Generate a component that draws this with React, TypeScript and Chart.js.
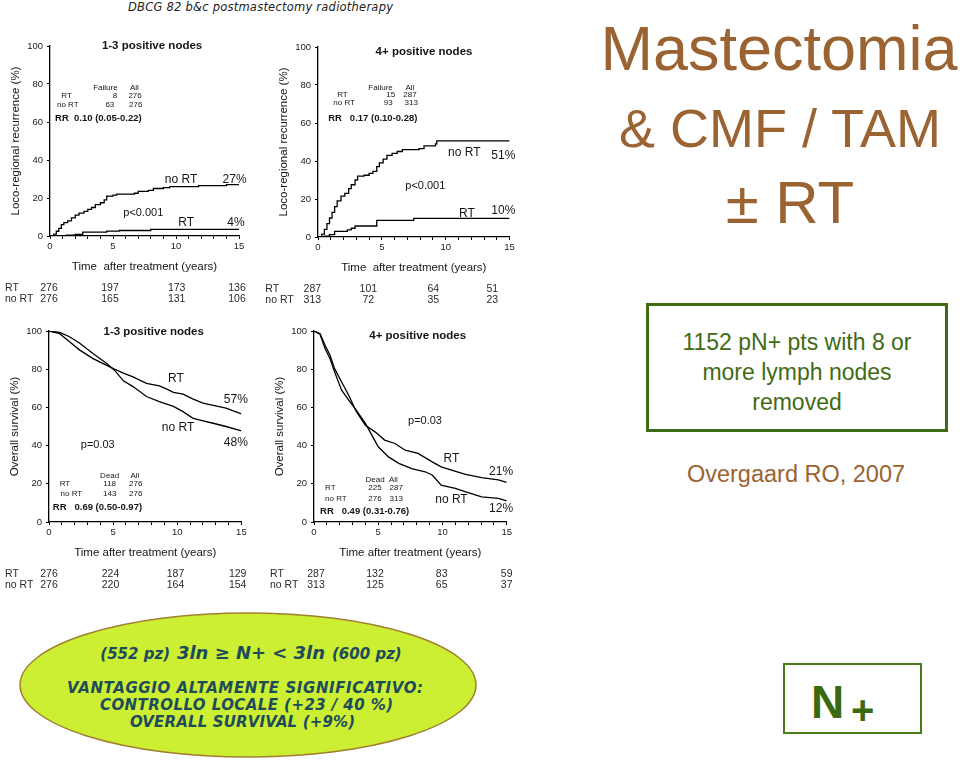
import React, { useEffect, useRef } from "react";
import { Chart, registerables } from "chart.js";
Chart.register(...registerables);

const F = '"Liberation Sans", Arial, sans-serif';

// ---------- data ----------
const yearTicks = [0, 5, 10, 15];

// Loco-regional recurrence, 1-3 positive nodes
const lrr13NoRtTime = [0, 0.3, 0.5, 0.7, 0.9, 1.1, 1.4, 1.7, 2.0, 2.3, 2.7, 3.0, 3.3, 3.6, 4.0, 4.3, 4.5, 5.0, 5.3, 6.7, 7.0, 7.8, 8.2, 9.0, 9.5, 11.8, 14.0, 15];
const lrr13NoRtPct = [0, 1, 2.5, 4, 6, 7, 8, 9.5, 11, 12, 13, 14, 15, 16.5, 17.5, 19, 21, 21.5, 22, 22.5, 23.5, 24, 25, 25.5, 26, 26.5, 27, 27];
const lrr13RtTime = [0, 1.3, 2.0, 2.6, 4.5, 5.5, 8.0, 15];
const lrr13RtPct = [0, 0.4, 0.8, 2, 2.6, 2.9, 3.5, 3.5];
const lrr13RiskRt = [276, 197, 173, 136];
const lrr13RiskNoRt = [276, 165, 131, 106];

// Loco-regional recurrence, 4+ positive nodes
const lrr4NoRtTime = [0, 0.3, 0.5, 0.7, 0.9, 1.1, 1.3, 1.5, 1.8, 2.1, 2.4, 2.6, 2.9, 3.1, 3.6, 4.0, 4.3, 4.6, 4.8, 5.1, 5.4, 5.8, 6.2, 6.6, 7.9, 8.3, 9.2, 9.3, 15];
const lrr4NoRtPct = [0, 1.5, 4, 7, 10, 13, 16, 19, 21.5, 23, 25.5, 27.5, 30, 32, 32.5, 33.5, 34.5, 37, 39, 41, 43, 44, 45, 46, 46.5, 48, 49, 50.6, 50.6];
const lrr4RtTime = [0, 0.5, 0.9, 1.3, 2.3, 2.6, 2.9, 4.6, 7.5, 15];
const lrr4RtPct = [0, 0.5, 1.2, 3, 3.8, 4.6, 5.8, 8.8, 9.8, 9.8];
const lrr4RiskRt = [287, 101, 64, 51];
const lrr4RiskNoRt = [313, 72, 35, 23];

// Overall survival, 1-3 positive nodes
const os13RtTime = [0, 0.83, 1.6, 2.4, 3.4, 4.5, 5.1, 5.8, 6.55, 7.6, 8.6, 9.15, 9.7, 10.45, 11.2, 12, 12.8, 13.8, 15];
const os13RtPct = [100, 98.6, 94.4, 90, 85.7, 82, 80, 77.9, 76, 72.6, 71.3, 69.7, 67.9, 66.9, 64.5, 62.2, 61, 59.6, 56.6];
const os13NoRtTime = [0, 0.83, 1.6, 2.4, 3.4, 4.5, 5.1, 5.8, 6.55, 7.6, 8.6, 9.7, 10.45, 11.2, 12, 12.8, 13.8, 15];
const os13NoRtPct = [100, 99.3, 97, 93.6, 88.3, 83, 79.5, 73.9, 70.9, 65.7, 63, 60.5, 57.8, 54.4, 53, 51.7, 50, 47.7];
const os13RiskRt = [276, 224, 187, 129];
const os13RiskNoRt = [276, 220, 164, 154];

// Overall survival, 4+ positive nodes
const os4RtTime = [0, 0.47, 0.86, 1.25, 1.6, 2.15, 2.7, 3.3, 4, 4.75, 5.5, 6.3, 7.1, 8.1, 9.2, 9.9, 10.7, 11.8, 13.05, 14.35, 15];
const os4RtPct = [100, 98.6, 92.5, 87.3, 80.3, 73.3, 66.4, 57.7, 50.7, 47.2, 42.9, 41.1, 37.6, 35.9, 31.5, 28.9, 27.2, 24.9, 23.2, 22, 20.7];
const os4NoRtTime = [0, 0.47, 0.86, 1.25, 1.6, 2.15, 2.7, 3.3, 4, 4.5, 5, 5.8, 6.6, 7.6, 8.65, 9.2, 9.9, 11, 11.75, 13.05, 14.35, 15];
const os4NoRtPct = [100, 98.3, 90.8, 85.5, 78.6, 69, 63.8, 58.5, 51.6, 45.5, 39.4, 34.1, 30.7, 28, 26.3, 24.6, 19.3, 17.6, 15.9, 13.2, 12.4, 11];
const os4RiskRt = [287, 132, 83, 59];
const os4RiskNoRt = [313, 125, 65, 37];

// ---------- layout constants ----------
const PADL = 8;
const AXISW = 50;
const PADR = 26;
const PADT = 18;
const XAXISH = 38;
const PADB = 36;

type Item = { t: number; v: number; text: string; align?: CanvasTextAlign; font: string };

const fTitle = `bold 11.5px ${F}`;
const fSmall = `8px ${F}`;
const fRR = `bold 9.5px ${F}`;
const fLab = `12px ${F}`;
const fP = `11px ${F}`;

const textPlugin = {
  id: "kmText",
  afterDraw(chart: any, _a: any, opts: any) {
    const { ctx, scales, chartArea } = chart;
    const x = scales.x, y = scales.y;
    ctx.save();
    ctx.textBaseline = "middle";
    ctx.fillStyle = "#151515";
    for (const it of (opts.items || []) as Item[]) {
      ctx.font = it.font;
      ctx.textAlign = it.align || "center";
      ctx.fillText(it.text, x.getPixelForValue(it.t), y.getPixelForValue(it.v));
    }
    if (opts.risk) {
      ctx.font = `10.5px ${F}`;
      ctx.fillStyle = "#2a2a2a";
      opts.risk.forEach((row: any, ri: number) => {
        const py = chartArea.bottom + (ri === 0 ? 52 : 63.5);
        ctx.textAlign = "left";
        ctx.fillText(row.label, chartArea.left + opts.riskLabelX, py);
        ctx.textAlign = "center";
        row.values.forEach((val: number, i: number) => {
          ctx.fillText(String(val), chartArea.left + opts.riskX[i], py);
        });
      });
    }
    ctx.restore();
  },
};

type Spec = {
  x0: number; y100: number; plotW: number; plotH: number;
  yTitle: string; xTitle: string; stepped: boolean;
  rt: [number[], number[]]; nort: [number[], number[]];
  items: Item[];
  riskRt: number[]; riskNoRt: number[];
  riskLabelX: number; riskX: number[];
};

const specs: Spec[] = [
  {
    x0: 50, y100: 46, plotW: 189, plotH: 190,
    yTitle: "Loco-regional recurrence (%)", xTitle: "Time  after treatment (years)", stepped: true,
    rt: [lrr13RtTime, lrr13RtPct], nort: [lrr13NoRtTime, lrr13NoRtPct],
    items: [
      { t: 8.1, v: 100, text: "1-3 positive nodes", font: fTitle },
      { t: 4.4, v: 78, text: "Failure", font: fSmall },
      { t: 6.7, v: 78, text: "All", font: fSmall },
      { t: 0.9, v: 73.6, text: "RT", font: fSmall, align: "left" },
      { t: 5.15, v: 73.6, text: "8", font: fSmall },
      { t: 6.75, v: 73.6, text: "276", font: fSmall },
      { t: 0.55, v: 69, text: "no RT", font: fSmall, align: "left" },
      { t: 4.75, v: 69, text: "63", font: fSmall },
      { t: 6.8, v: 69, text: "276", font: fSmall },
      { t: 0.4, v: 62, text: "RR  0.10 (0.05-0.22)", font: fRR, align: "left" },
      { t: 10.4, v: 29.6, text: "no RT", font: fLab },
      { t: 15.6, v: 29.6, text: "27%", font: fLab, align: "right" },
      { t: 7.4, v: 12.3, text: "p<0.001", font: fP },
      { t: 10.8, v: 7, text: "RT", font: fLab },
      { t: 15.45, v: 7, text: "4%", font: fLab, align: "right" },
    ],
    riskRt: lrr13RiskRt, riskNoRt: lrr13RiskNoRt,
    riskLabelX: -45, riskX: [-1, 60, 126.7, 187],
  },
  {
    x0: 317.7, y100: 47, plotW: 191.6, plotH: 189.7,
    yTitle: "Loco-regional recurrence (%)", xTitle: "Time  after treatment (years)", stepped: true,
    rt: [lrr4RtTime, lrr4RtPct], nort: [lrr4NoRtTime, lrr4NoRtPct],
    items: [
      { t: 8.3, v: 97.5, text: "4+ positive nodes", font: fTitle },
      { t: 4.9, v: 78.7, text: "Failure", font: fSmall },
      { t: 7.2, v: 78.7, text: "All", font: fSmall },
      { t: 1.5, v: 74.7, text: "RT", font: fSmall, align: "left" },
      { t: 5.7, v: 74.7, text: "15", font: fSmall },
      { t: 7.2, v: 74.7, text: "287", font: fSmall },
      { t: 1.2, v: 70.6, text: "no RT", font: fSmall, align: "left" },
      { t: 5.5, v: 70.6, text: "93", font: fSmall },
      { t: 7.3, v: 70.6, text: "313", font: fSmall },
      { t: 0.8, v: 62.4, text: "RR   0.17 (0.10-0.28)", font: fRR, align: "left" },
      { t: 11.45, v: 44.3, text: "no RT", font: fLab },
      { t: 15.45, v: 43, text: "51%", font: fLab, align: "right" },
      { t: 8.4, v: 27, text: "p<0.001", font: fP },
      { t: 11.66, v: 12.3, text: "RT", font: fLab },
      { t: 15.45, v: 13.7, text: "10%", font: fLab, align: "right" },
    ],
    riskRt: lrr4RiskRt, riskNoRt: lrr4RiskNoRt,
    riskLabelX: -52.7, riskX: [-5.7, 50.3, 115.3, 174.3],
  },
  {
    x0: 49.3, y100: 331, plotW: 192.4, plotH: 191.3,
    yTitle: "Overall survival (%)", xTitle: "Time after treatment (years)", stepped: false,
    rt: [os13RtTime, os13RtPct], nort: [os13NoRtTime, os13NoRtPct],
    items: [
      { t: 8.16, v: 99.6, text: "1-3 positive nodes", font: fTitle },
      { t: 9.9, v: 75, text: "RT", font: fLab },
      { t: 15.5, v: 64, text: "57%", font: fLab, align: "right" },
      { t: 10.06, v: 49.5, text: "no RT", font: fLab },
      { t: 15.5, v: 41.6, text: "48%", font: fLab, align: "right" },
      { t: 3.8, v: 40.4, text: "p=0.03", font: fP },
      { t: 4.73, v: 24.2, text: "Dead", font: fSmall },
      { t: 6.7, v: 24.2, text: "All", font: fSmall },
      { t: 0.83, v: 19.9, text: "RT", font: fSmall, align: "left" },
      { t: 4.73, v: 19.9, text: "118", font: fSmall },
      { t: 6.76, v: 19.9, text: "276", font: fSmall },
      { t: 0.9, v: 14.6, text: "no RT", font: fSmall, align: "left" },
      { t: 4.73, v: 14.6, text: "143", font: fSmall },
      { t: 6.76, v: 14.6, text: "276", font: fSmall },
      { t: 0.3, v: 7.8, text: "RR   0.69 (0.50-0.97)", font: fRR, align: "left" },
    ],
    riskRt: os13RiskRt, riskNoRt: os13RiskNoRt,
    riskLabelX: -44, riskX: [0, 61.5, 126.5, 188.7],
  },
  {
    x0: 314, y100: 330.7, plotW: 192.7, plotH: 191.3,
    yTitle: "Overall survival (%)", xTitle: "Time after treatment (years)", stepped: false,
    rt: [os4RtTime, os4RtPct], nort: [os4NoRtTime, os4NoRtPct],
    items: [
      { t: 8.07, v: 97.7, text: "4+ positive nodes", font: fTitle },
      { t: 8.64, v: 52.8, text: "p=0.03", font: fP },
      { t: 10.7, v: 33.3, text: "RT", font: fLab },
      { t: 15.5, v: 26.3, text: "21%", font: fLab, align: "right" },
      { t: 10.7, v: 11.5, text: "no RT", font: fLab },
      { t: 15.5, v: 7.1, text: "12%", font: fLab, align: "right" },
      { t: 4.75, v: 22.3, text: "Dead", font: fSmall },
      { t: 6.18, v: 22.3, text: "All", font: fSmall },
      { t: 0.86, v: 17.9, text: "RT", font: fSmall, align: "left" },
      { t: 4.75, v: 17.9, text: "225", font: fSmall },
      { t: 6.4, v: 17.9, text: "287", font: fSmall },
      { t: 0.86, v: 12.4, text: "no RT", font: fSmall, align: "left" },
      { t: 4.75, v: 12.4, text: "276", font: fSmall },
      { t: 6.4, v: 12.4, text: "313", font: fSmall },
      { t: 0.47, v: 5.7, text: "RR   0.49 (0.31-0.76)", font: fRR, align: "left" },
    ],
    riskRt: os4RiskRt, riskNoRt: os4RiskNoRt,
    riskLabelX: -44, riskX: [2, 61, 127.7, 192.7],
  },
];

function toPts(s: [number[], number[]]) {
  return s[0].map((t, i) => ({ x: t, y: s[1][i] }));
}

function KMChart({ spec }: { spec: Spec }) {
  const ref = useRef<HTMLCanvasElement>(null);
  const w = Math.round(PADL + AXISW + spec.plotW + PADR);
  const h = Math.round(PADT + spec.plotH + XAXISH + PADB);
  useEffect(() => {
    const tickFont = { family: F, size: 9.5 };
    const chart = new Chart(ref.current as HTMLCanvasElement, {
      type: "line",
      data: {
        datasets: [
          { data: toPts(spec.nort), borderColor: "#000", borderWidth: 1.3, pointRadius: 0, stepped: spec.stepped, fill: false },
          { data: toPts(spec.rt), borderColor: "#000", borderWidth: 1.3, pointRadius: 0, stepped: spec.stepped, fill: false },
        ],
      } as any,
      options: {
        responsive: false,
        animation: false,
        events: [],
        layout: { padding: { left: PADL, top: PADT, right: w - PADL - AXISW - spec.plotW, bottom: PADB } },
        plugins: {
          legend: { display: false },
          tooltip: { enabled: false },
          kmText: {
            items: spec.items,
            risk: [
              { label: "RT", values: spec.riskRt },
              { label: "no RT", values: spec.riskNoRt },
            ],
            riskLabelX: spec.riskLabelX,
            riskX: spec.riskX,
          },
        } as any,
        scales: {
          x: {
            type: "linear",
            min: 0,
            max: 15,
            ticks: {
              stepSize: 1,
              autoSkip: false,
              maxRotation: 0,
              padding: 2,
              color: "#222",
              font: tickFont,
              callback: (v: any) => (yearTicks.includes(Number(v)) ? String(v) : ""),
            },
            grid: { drawOnChartArea: false, tickLength: 3, tickColor: "#000", tickWidth: 1 },
            border: { color: "#000", width: 1.3 },
            title: { display: true, text: spec.xTitle, color: "#151515", font: { family: F, size: 11.5 }, padding: 0 },
            afterFit: (s: any) => { s.height = XAXISH; },
          },
          y: {
            min: 0,
            max: 100,
            ticks: { stepSize: 20, padding: 4, color: "#222", font: tickFont },
            grid: { drawOnChartArea: false, tickLength: 3, tickColor: "#000", tickWidth: 1 },
            border: { color: "#000", width: 1.3 },
            title: { display: true, text: spec.yTitle, color: "#151515", font: { family: F, size: 11.5 }, padding: { top: 9, bottom: 0 } },
            afterFit: (s: any) => { s.width = AXISW; },
          },
        } as any,
      },
      plugins: [textPlugin as any],
    });
    return () => chart.destroy();
  }, []);
  return (
    <canvas
      ref={ref}
      width={w}
      height={h}
      style={{ position: "absolute", left: spec.x0 - PADL - AXISW, top: spec.y100 - PADT, width: w, height: h }}
    />
  );
}

const brown = "#9a6331";
const green = "#3f6b14";
const teal = "#1d4b5c";

export default function App() {
  return (
    <div style={{ position: "absolute", left: 0, top: 0, width: 960, height: 762, background: "#fff", overflow: "hidden" }}>
      <svg width={960} height={762} style={{ position: "absolute", left: 0, top: 0 }}>
        <text x={128} y={11} fontFamily="DejaVu Sans" fontStyle="italic" fontSize={11.5} fill="#222" textLength={265}>
          DBCG 82 b&amp;c postmastectomy radiotherapy
        </text>
        <g fontFamily={F} fill={brown} textAnchor="middle">
          <text x={779} y={70} fontSize={63}>Mastectomia</text>
          <text x={780} y={147} fontSize={54}>&amp; CMF / TAM</text>
          <text x={790} y={223} fontSize={60}>± RT</text>
          <text x={796} y={482} fontSize={23.5}>Overgaard RO, 2007</text>
        </g>
        <rect x={647.5} y={304.5} width={299} height={126} fill="none" stroke={green} strokeWidth={3} />
        <g fontFamily={F} fill={green} textAnchor="middle" fontSize={23}>
          <text x={797} y={350}>1152 pN+ pts with 8 or</text>
          <text x={797} y={380}>more lymph nodes</text>
          <text x={797} y={410}>removed</text>
        </g>
        <ellipse cx={248} cy={685} rx={228} ry={72} fill="#ccee33" stroke="#a08030" strokeWidth={1.5} />
        <g fontFamily="DejaVu Sans" fontWeight="bold" fontStyle="italic" fill={teal}>
          <text x={170} y={659} fontSize={15} textAnchor="end">(552 pz)</text>
          <text x={177} y={659} fontSize={18} textLength={148}>3ln ≥  N+ &lt; 3ln</text>
          <text x={332} y={659} fontSize={15}>(600 pz)</text>
          <text x={67} y={693} fontSize={15} textLength={356}>VANTAGGIO ALTAMENTE SIGNIFICATIVO:</text>
          <text x={100} y={710} fontSize={15} textLength={293}>CONTROLLO LOCALE (+23 / 40 %)</text>
          <text x={130} y={727} fontSize={15} textLength={225}>OVERALL SURVIVAL (+9%)</text>
        </g>
        <rect x={784} y={664} width={137} height={69} fill="none" stroke="#4a7a1a" strokeWidth={2} />
        <text x={811} y={718} fontFamily={F} fontWeight="bold" fontSize={46} fill="#3a6a10">N</text>
        <text x={851} y={724} fontFamily={F} fontWeight="bold" fontSize={40} fill="#3a6a10">+</text>
      </svg>
      {specs.map((s, i) => (
        <KMChart key={i} spec={s} />
      ))}
    </div>
  );
}
